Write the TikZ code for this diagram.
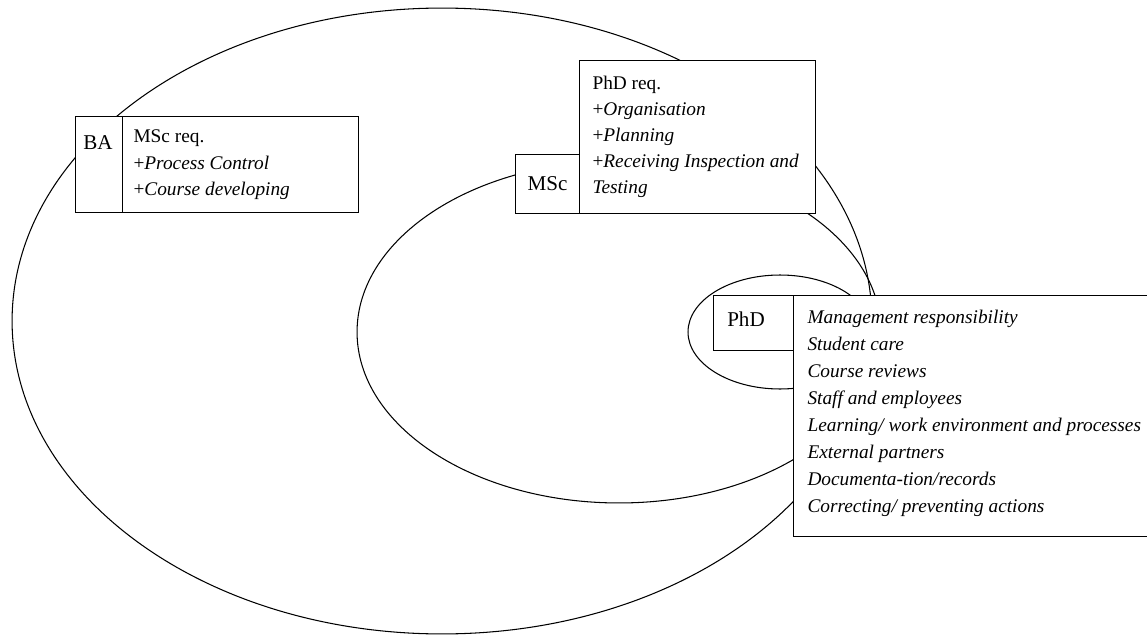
\documentclass[tikz,border=0pt]{standalone}
\usepackage{fontspec}
\setmainfont{Liberation Serif}
\begin{document}
\begin{tikzpicture}[x=0.02cm, y=-0.02cm, line width=0.6pt,
  box/.style={draw, fill=white, inner sep=0pt, anchor=north west},
  lbl/.style={inner sep=0pt, font=\fontsize{12}{14}\selectfont},
  req/.style={anchor=north west, align=left, inner sep=0pt, font=\fontsize{11}{15.2}\selectfont}]
  \useasboundingbox (0,0) rectangle (1147,635);

  % Levels as nested ellipses
  \draw (442,321) ellipse [x radius=8.6cm, y radius=6.26cm];   % BA
  \draw (619,332) ellipse [x radius=5.24cm, y radius=3.42cm];  % MSc
  \draw (780,332) ellipse [x radius=1.84cm, y radius=1.14cm];  % PhD

  % BA box
  \node[box, minimum width=0.94cm, minimum height=1.92cm] (ba) at (75,116) {};
  \node[box, minimum width=4.72cm, minimum height=1.92cm] (bareq) at (122,116) {};
  \node[lbl] (balbl) at (98,143) {BA};
  \node[req] (batxt) at (133,129) {MSc req.\\+\textit{Process Control}\\+\textit{Course developing}};

  % MSc box
  \node[box, minimum width=1.28cm, minimum height=1.18cm] (msc) at (515,154) {};
  \node[box, minimum width=4.72cm, minimum height=3.06cm] (mscreq) at (579,60) {};
  \node[lbl] (msclbl) at (msc.center) {MSc};
  \node[req, font=\fontsize{11}{14.8}\selectfont] (msctxt) at (592,76)
    {PhD req.\\+\textit{Organisation}\\+\textit{Planning}\\+\textit{Receiving Inspection and}\\\textit{Testing}};

  % PhD box
  \node[box, minimum width=1.6cm, minimum height=1.1cm] (phd) at (713,295) {};
  \node[box, minimum width=7.18cm, minimum height=4.82cm] (phdreq) at (793,295) {};
  \node[lbl] (phdlbl) at (746,319) {PhD};
  \node[req, font=\fontsize{11}{15.35}\selectfont\itshape] (phdtxt) at (807,310)
    {Management responsibility\\Student care\\Course reviews\\Staff and employees\\
     Learning/ work environment and processes\\External partners\\
     Documenta-tion/records\\Correcting/ preventing actions};
\end{tikzpicture}
\end{document}
